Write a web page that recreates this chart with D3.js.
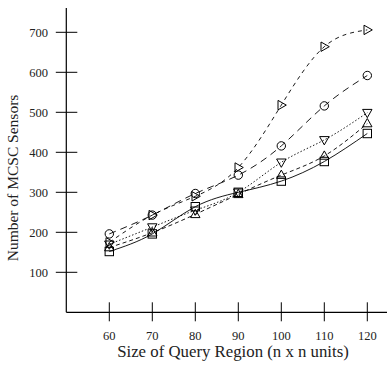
<!DOCTYPE html>
<html>
<head>
<meta charset="utf-8">
<script src="https://cdn.jsdelivr.net/npm/d3@7"></script>
<style>
  body { margin: 0; background: #fff; }
  text { font-family: "Liberation Serif", "DejaVu Serif", serif; fill: #222; }
</style>
</head>
<body>
<svg id="chart" width="387" height="367"></svg>
<script>
// query region sizes (n)
var sizes = [60, 70, 80, 90, 100, 110, 120];
var yTicks = [100, 200, 300, 400, 500, 600, 700];

// number of MCSC sensors per series
var triRight = [175, 243, 290, 362, 518, 664, 706];
var circle   = [196, 243, 297, 343, 416, 516, 592];
var triDown  = [170, 213, 255, 300, 375, 431, 499];
var triUp    = [162, 199, 245, 295, 343, 391, 472];
var square   = [152, 196, 264, 300, 328, 377, 447];

var series = [
    { name: "square",   values: square,   dash: null,  marker: "square" },
    { name: "triUp",    values: triUp,    dash: "4,3", marker: "up" },
    { name: "triDown",  values: triDown,  dash: "1.5,2", marker: "down" },
    { name: "circle",   values: circle,   dash: "7,5", marker: "circle" },
    { name: "triRight", values: triRight, dash: "4,4", marker: "right" }
];

var svg = d3.select("#chart");

var x = d3.scaleLinear().domain([50, 130]).range([66.3, 410.3]);
var y = d3.scaleLinear().domain([0, 700]).range([312.3, 32.3]);

// axes drawn by hand so ticks cross the line like the original
var g = svg.append("g");
g.append("line").attr("x1", x(50)).attr("x2", 387).attr("y1", y(0)).attr("y2", y(0))
    .attr("stroke", "#000").attr("stroke-width", 1.2);
g.append("line").attr("x1", x(50)).attr("x2", x(50)).attr("y1", y(0)).attr("y2", 8)
    .attr("stroke", "#000").attr("stroke-width", 1.2);

g.selectAll(".xt").data(sizes).enter().append("line")
    .attr("x1", function(d) { return x(d); }).attr("x2", function(d) { return x(d); })
    .attr("y1", y(0) - 10).attr("y2", y(0) + 9)
    .attr("stroke", "#000").attr("stroke-width", 1);
g.selectAll(".xl").data(sizes).enter().append("text")
    .attr("x", function(d) { return x(d); })
    .attr("y", 340)
    .attr("text-anchor", "middle")
    .attr("font-size", "12.5px")
    .text(function(d) { return d; });

g.selectAll(".yt").data(yTicks).enter().append("line")
    .attr("y1", function(d) { return y(d); }).attr("y2", function(d) { return y(d); })
    .attr("x1", x(50) - 10.5).attr("x2", x(50) + 11)
    .attr("stroke", "#000").attr("stroke-width", 1);
g.selectAll(".yl").data(yTicks).enter().append("text")
    .attr("x", 48)
    .attr("y", function(d) { return y(d) + 4.5; })
    .attr("text-anchor", "end")
    .attr("font-size", "12.5px")
    .text(function(d) { return d; });

svg.append("text")
    .attr("x", 233).attr("y", 357)
    .attr("text-anchor", "middle")
    .attr("font-size", "16.8px")
    .text("Size of Query Region (n x n units)");

svg.append("text")
    .attr("transform", "translate(18,178) rotate(-90)")
    .attr("text-anchor", "middle")
    .attr("font-size", "15.5px")
    .text("Number of MCSC Sensors");

var line = d3.line()
    .x(function(d, i) { return x(sizes[i]); })
    .y(function(d) { return y(d); })
    .curve(d3.curveNatural);

series.forEach(function(s) {
    svg.append("path")
        .attr("d", line(s.values))
        .attr("fill", "none")
        .attr("stroke", "#000")
        .attr("stroke-width", 0.9)
        .attr("stroke-dasharray", s.dash);

    var m = svg.append("g").selectAll("g").data(s.values).enter().append("g")
        .attr("transform", function(d, i) { return "translate(" + x(sizes[i]) + "," + y(d) + ")"; });

    if (s.marker === "circle") {
        m.append("circle").attr("r", 4.2);
    } else if (s.marker === "square") {
        m.append("rect").attr("x", -4.2).attr("y", -4.2).attr("width", 8.4).attr("height", 8.4);
    } else if (s.marker === "up") {
        m.append("path").attr("d", "M0,-5L4.7,3.3L-4.7,3.3Z");
    } else if (s.marker === "down") {
        m.append("path").attr("d", "M0,5L4.7,-3.3L-4.7,-3.3Z");
    } else {
        m.append("path").attr("d", "M5,0L-3.3,-4.7L-3.3,4.7Z");
    }
    m.selectAll("*").attr("fill", "none").attr("stroke", "#000").attr("stroke-width", 1);
});
</script>
</body>
</html>
